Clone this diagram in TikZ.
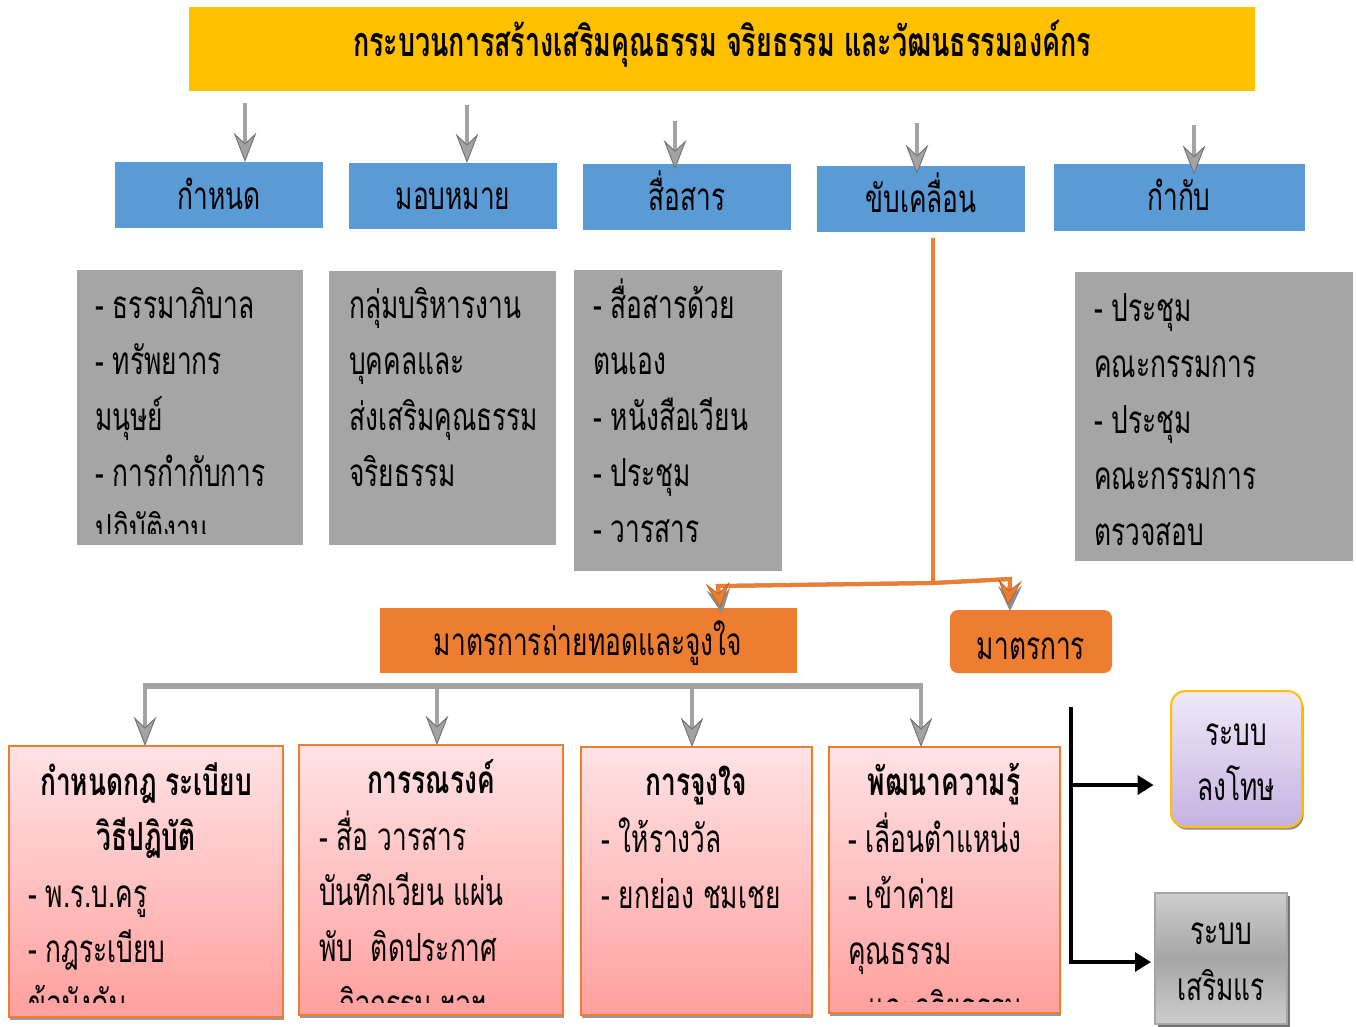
\documentclass[tikz,border=0pt]{standalone}
\usepackage{fontspec}
\usetikzlibrary{arrows.meta,shadows,fit}
\newfontfamily\thai[Script=Thai,FakeStretch=0.68]{Loma}
\newfontfamily\thaitt[Script=Thai,FakeStretch=0.65]{Loma}
\definecolor{cgold}{HTML}{FFC000}
\definecolor{cblue}{HTML}{5B9BD5}
\definecolor{cgray}{HTML}{A5A5A5}
\definecolor{corange}{HTML}{ED7D31}
\definecolor{cpinkT}{HTML}{FFE2E4}
\definecolor{cpinkB}{HTML}{FFA09E}
\definecolor{cpurT}{HTML}{EFE9F8}
\definecolor{cpurB}{HTML}{C6B2E1}
\definecolor{carrow}{HTML}{A3A3A3}
\definecolor{cgbT}{HTML}{CDCDCD}
\definecolor{cgbM}{HTML}{A6A6A6}
\tikzset{
  box/.style={inner sep=0pt, outer sep=0pt, text=black},
  titlebox/.style={box, fill=cgold},
  bluebox/.style={box, fill=cblue},
  graybox/.style={box, fill=cgray},
  orangebox/.style={box, fill=corange},
  pinkbox/.style={box, draw=corange, line width=1.6pt, top color=cpinkT, bottom color=cpinkB,
    drop shadow={shadow xshift=0.8pt, shadow yshift=-2.6pt, fill=black!40, opacity=1}},
  purbox/.style={box, draw=cgold, line width=1.5pt, rounded corners=11pt, top color=cpurT, bottom color=cpurB,
    drop shadow={shadow xshift=1.2pt, shadow yshift=-2pt, fill=black!45, opacity=1}},
  gbox/.style={box, draw=black!35, line width=1.5pt, top color=cgbT, bottom color=cgbT, middle color=cgbM,
    drop shadow={shadow xshift=2pt, shadow yshift=-2pt, fill=black!55, opacity=1}},
  lbl/.style={inner sep=0pt, anchor=base, font=\thai\fontsize{29}{34}\selectfont},
  ttl/.style={inner sep=0pt, anchor=base, font=\thaitt\bfseries\fontsize{31}{36}\selectfont},
  body/.style={inner sep=0pt, anchor=base west, font=\thai\fontsize{29}{34}\selectfont},
  bodyb/.style={inner sep=0pt, anchor=base, font=\thai\bfseries\fontsize{29}{34}\selectfont},
  garrow/.style={draw=carrow, line width=3pt,
    -{Stealth[length=22pt,width=17pt,inset=8pt,line width=0.7pt,color=black!55,fill=carrow]}},
  gline/.style={draw=carrow, line width=4.5pt},
  oline/.style={draw=corange, line width=3pt},
  oshadow/.style={draw=black!45, line width=3pt},
  oarrow/.style={-{Stealth[length=19pt,width=18pt,inset=8pt,line width=0.6pt,color=corange!80!black,fill=corange]}},
  sarrow/.style={-{Stealth[length=19pt,width=18pt,inset=8pt,line width=0.6pt,color=black!45,fill=black!45]}},
  karrow/.style={draw=black, line width=3.6pt, -{Triangle[length=12pt,width=14pt]}},
  kline/.style={draw=black, line width=3.6pt},
}
\begin{document}
\begin{tikzpicture}[x=0.75pt,y=-0.75pt]
\useasboundingbox[fill=white] (0,0) rectangle (1356,1026);

% title
\node[titlebox, fit={(189,7) (1255,91)}] (title) {};
\node[ttl] (titletext) at (722,56) {กระบวนการสร้างเสริมคุณธรรม จริยธรรม และวัฒนธรรมองค์กร};

% blue boxes
\node[bluebox, fit={(115,162) (323,228)}] (b1) {};
\node[bluebox, fit={(349,163) (557,229)}] (b2) {};
\node[bluebox, fit={(583,164) (791,230)}] (b3) {};
\node[bluebox, fit={(817,166) (1025,232)}] (b4) {};
\node[bluebox, fit={(1054,164) (1305,231)}] (b5) {};
\node[lbl] (b1t) at (219,209) {กำหนด};
\node[lbl] (b2t) at (453,209) {มอบหมาย};
\node[lbl] (b3t) at (687,210) {สื่อสาร};
\node[lbl] (b4t) at (921,212) {ขับเคลื่อน};
\node[lbl] (b5t) at (1179,210) {กำกับ};

% arrows title -> blue
\coordinate (s1) at (245,103);
\coordinate (s2) at (467,105);
\coordinate (s3) at (675,121);
\coordinate (s4) at (917,123);
\coordinate (s5) at (1194,125);
\draw[garrow] (s1) -- (s1 |- b1.north);
\draw[garrow] (s2) -- (s2 |- b2.north);
\draw[garrow] (s3) -- ([yshift=-4pt]s3 |- b3.north);
\draw[garrow] (s4) -- ([yshift=-6pt]s4 |- b4.north);
\draw[garrow] (s5) -- ([yshift=-8pt]s5 |- b5.north);

% gray boxes
\node[graybox, fit={(77,270) (303,545)}] (g1) {};
\node[graybox, fit={(329,271) (556,545)}] (g2) {};
\node[graybox, fit={(574,270) (782,571)}] (g3) {};
\node[graybox, fit={(1075,272) (1353,561)}] (g5) {};

\begin{scope}
\clip (g1.north west) rectangle (303,533);
\foreach \t [count=\i] in {- ธรรมาภิบาล, - ทรัพยากร, มนุษย์, - การกำกับการ, ปฏิบัติงาน}
  \node[body, name=g1t\i] at (95,{318+(\i-1)*56}) {\t};
\end{scope}
\foreach \t [count=\i] in {กลุ่มบริหารงาน, บุคคลและ, ส่งเสริมคุณธรรม, จริยธรรม}
  \node[body, name=g2t\i] at (349,{318+(\i-1)*56}) {\t};
\foreach \t [count=\i] in {- สื่อสารด้วย, ตนเอง, - หนังสือเวียน, - ประชุม, - วารสาร}
  \node[body, name=g3t\i] at (593,{318+(\i-1)*56}) {\t};
\foreach \t [count=\i] in {- ประชุม, คณะกรรมการ, - ประชุม, คณะกรรมการ, ตรวจสอบ}
  \node[body, name=g5t\i] at (1094,{321+(\i-1)*56}) {\t};

% orange boxes
\node[orangebox, fit={(380,608) (797,673)}] (o1) {};
\node[orangebox, rounded corners=6pt, fit={(950,610) (1112,673)}] (o2) {};
\node[lbl] (o1t) at (588,655) {มาตรการถ่ายทอดและจูงใจ};
\node[lbl] (o2t) at (1031,659) {มาตรการ};

% orange connector
\coordinate (ot) at (933,238);
\coordinate (oj) at (933,583);
\coordinate (ol) at (718,586);
\coordinate (or) at (1010,579);
\begin{scope}[shift={(2,4)}]
  \draw[oshadow] (ot) -- (oj);
  \draw[oshadow, sarrow] (oj) -- (ol) -- (720,610);
  \draw[oshadow, sarrow] (oj) -- (or) -- (1008,607);
\end{scope}
\draw[oline] (ot) -- (oj);
\draw[oline, oarrow] (oj) -- (ol) -- (720,608);
\draw[oline, oarrow] (oj) -- (or) -- (1008,605);

% pink boxes
\node[pinkbox, fit={(9,746) (283,1017)}] (k1) {};
\node[pinkbox, fit={(299,745) (563,1015)}] (k2) {};
\node[pinkbox, fit={(581,747) (812,1015)}] (k3) {};
\node[pinkbox, fit={(829,747) (1060,1013)}] (k4) {};

% gray distribution line and arrows
\coordinate (hl) at (145,686);
\coordinate (hr) at (921,686);
\draw[gline] ([xshift=-1.5pt]hl) -- ([xshift=1.5pt]hr);
\draw[garrow] (hl) -- (hl |- k1.north);
\draw[garrow] (437,686) -- (437,0 |- k2.north);
\draw[garrow] (692,686) -- (692,0 |- k3.north);
\draw[garrow] (hr) -- (hr |- k4.north);

% pink box texts
\begin{scope}
\clip (k1.north west) rectangle (283,1002);
\node[bodyb] (k1h1) at (146,795) {กำหนดกฎ ระเบียบ};
\node[bodyb] (k1h2) at (146,850) {วิธีปฏิบัติ};
\node[body] (k1t1) at (28,907) {- พ.ร.บ.ครู};
\node[body] (k1t2) at (28,962) {- กฎระเบียบ};
\node[body] (k1t3) at (28,1017) {ข้อบังคับ};
\end{scope}
\begin{scope}
\clip (k2.north west) rectangle (563,1002);
\node[bodyb] (k2h1) at (431,793) {การรณรงค์};
\node[body] (k2t1) at (319,850) {- สื่อ วารสาร};
\node[body] (k2t2) at (319,905) {บันทึกเวียน แผ่น};
\node[body] (k2t3) at (319,961) {พับ\ \ ติดประกาศ};
\node[body] (k2t4) at (339,1017) {กิจกรรม ฯลฯ};
\end{scope}
\node[bodyb] (k3h1) at (696,795) {การจูงใจ};
\node[body] (k3t1) at (601,852) {- ให้รางวัล};
\node[body] (k3t2) at (601,908) {- ยกย่อง ชมเชย};
\begin{scope}
\clip (k4.north west) rectangle (1060,1001);
\node[bodyb] (k4h1) at (944,795) {พัฒนาความรู้};
\node[body] (k4t1) at (848,852) {- เลื่อนตำแหน่ง};
\node[body] (k4t2) at (848,908) {- เข้าค่าย};
\node[body] (k4t3) at (848,964) {คุณธรรม};
\node[body] (k4t4) at (868,1020) {และจริยธรรม};
\end{scope}

% right side boxes
\node[purbox, fit={(1171,691) (1302,827)}] (p1) {};
\node[lbl] (p1t1) at (1236,745) {ระบบ};
\node[lbl] (p1t2) at (1236,800) {ลงโทษ};
\node[gbox, fit={(1155,893) (1287,1024)}] (p2) {};
\node[lbl] (p2t1) at (1221,944) {ระบบ};
\node[lbl] (p2t2) at (1221,1000) {เสริมแร};

% black bracket
\coordinate (kt) at (1071,707);
\coordinate (kb) at (1071,962);
\draw[kline] (kt) -- (kb);
\draw[karrow] (1071,785) -- ([xshift=-13pt]p1.west |- 0,785);
\draw[karrow] ([xshift=-1.8pt]kb) -- ([xshift=-3pt]p2.west |- kb);
\end{tikzpicture}
\end{document}
